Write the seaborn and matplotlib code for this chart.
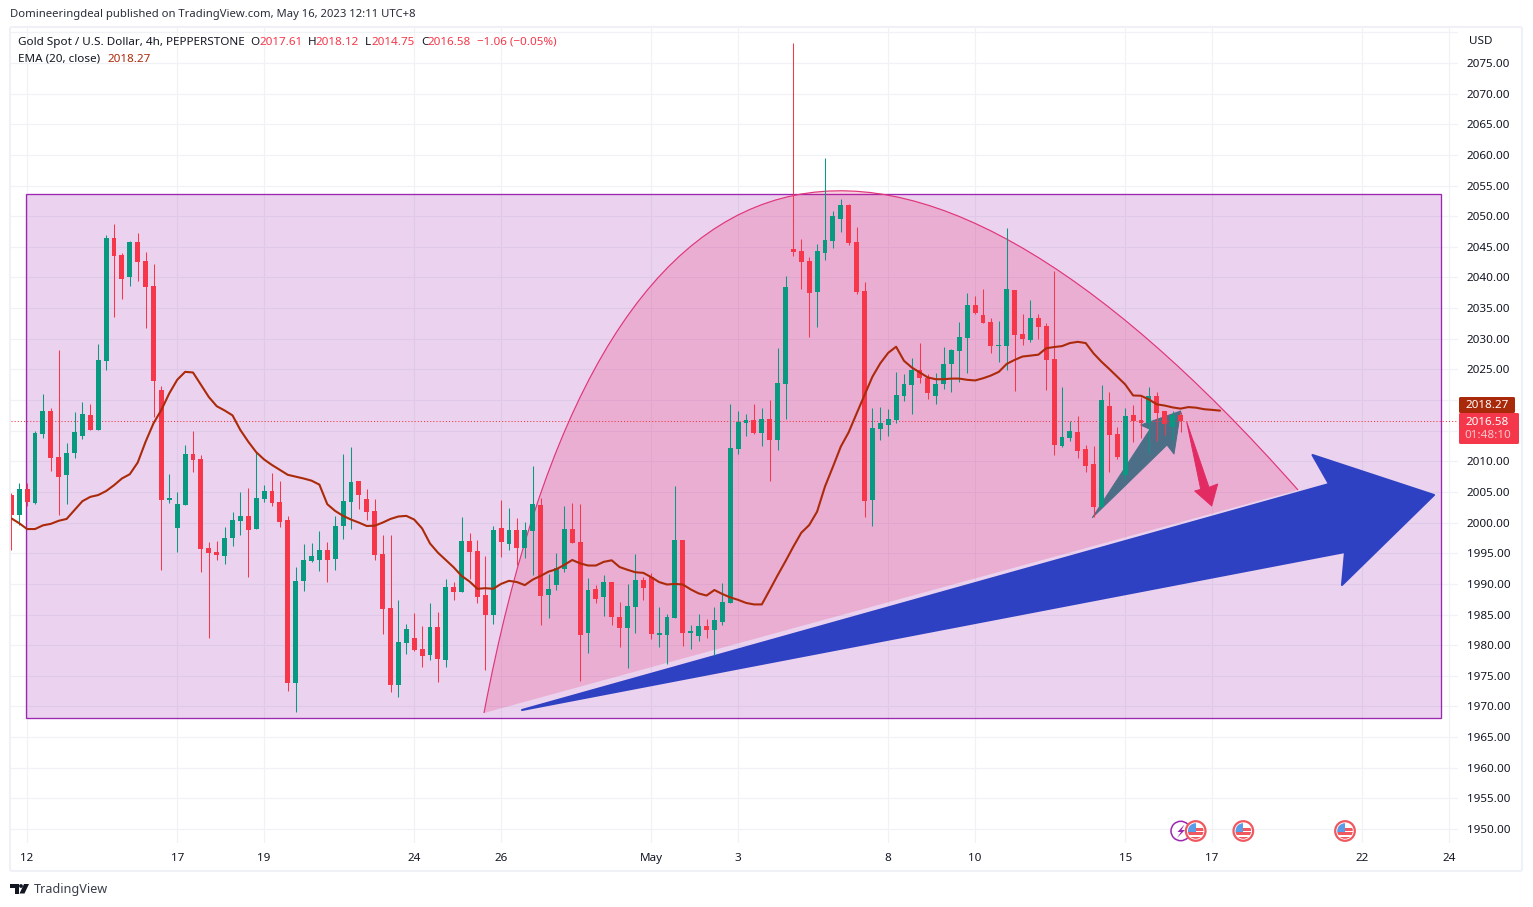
import numpy as np
import pandas as pd
import matplotlib
matplotlib.use("Agg")
import matplotlib.pyplot as plt
import seaborn as sns
from matplotlib.patches import Rectangle, Polygon, PathPatch, Circle, FancyBboxPatch
from matplotlib.path import Path
from matplotlib.transforms import Affine2D

# ---------- data (4h candles, USD) ----------
direction = list("RGRGGRRGGGRGGRRGRRRRGGGRRRRGGGRGG"
                 "RRRGGGGRGGGRRRRRGGRRGRGRGRRRGRGRG"
                 "GRGGGRRGRGRRGGRRGGGRGGRGGGGGRGRGG"
                 "RRRGGGGRRRGGGGGGRRG"
                 "GGGGRRRGGRRGRRRGGRRRGRRGRRGRRGR")
high = [2004.9,2006.5,2006.5,2014.9,2021,2018.7,2028.2,2013,2018,2019.7,2019.3,2029.1,2046.9,2048.7,2044,2046,2047.3,2044.2,2042.2,2022.3,2007.9,2005,2012.7,2014.9,2011,1996.8,1997,1999.3,2001.7,2005,2005.6,2011.5,2006.1,
        2008.1,2006.8,2001,1992.8,1996.5,1996.7,1998.6,1996.8,2001.1,2011.2,2012.3,2006.8,2005.5,2003.8,1998,1998,1987.4,1983.4,1985.2,1983.1,1986.9,1985.4,1990.8,1990.3,2000.9,1998.3,1997.2,1994.5,1999.4,2003.7,2002.4,2000.7,2000.1,
        2009.2,2004,1991.6,1995,2002.7,2003.2,2003,1991,1989.8,1991.4,1990.3,1987,1990,1994.9,1991.1,1991.8,1986.2,1985.1,2006,1997.2,1983.3,1985.1,1984.3,1986.2,1990.1,2019.35,2018.2,2017.7,2019.35,2018.7,2020,2028.5,2040.2,
        2078.3,2046.3,2043.3,2045.5,2059.5,2050.85,2052.8,2052,2048.2,2039.3,2018.7,2018.9,2018.5,2024.6,2024.25,2026.9,2029.3,2024.25,2024.4,
        2028.65,2028.3,2032.7,2037.5,2037,2038.1,2033.4,2032.9,2048.1,2038,2034,2036.3,2034,2032.6,2041,2022.1,2016.6,2017.4,2012.7,2012.5,2022.5,2021.3,2015.6,2018.7,2019.2,2020.5,2022.1,2021.3,2018.2,2018.2,2018.12]
body_top = [2004.5,2005.5,2005.5,2014.6,2018.2,2018.2,2010.7,2011.4,2014.8,2017.7,2017.6,2026.5,2046.4,2046.4,2043.7,2045.8,2045.8,2042.7,2038.6,2021.6,2004,2003,2011.2,2011.2,2010.4,1995.8,1995.2,1997.5,2000.4,2001,2001,2004,2005.1,
            2005.2,2003.4,2000.4,1990.5,1993.9,1994.5,1995.5,1995.5,1999.4,2003.5,2006.6,2006.8,2003.8,2001.9,1994.9,1986,1980.5,1982.6,1981.2,1979.4,1983,1983,1989.5,1989.5,1997,1997,1995.4,1988.2,1998.8,1999.1,1998.8,1998.8,1998.8,
            2003,2002.9,1989.2,1992.6,1999,1999,1996.8,1989,1989.2,1990.3,1990.3,1984.6,1986.4,1990.6,1990.6,1991.1,1982,1984.6,1997.2,1997.2,1982.3,1983.1,1983.1,1984.1,1987,2012.2,2016.4,2016.7,2016.7,2016.9,2016.9,2022.8,2038.4,
            2044.6,2044.3,2042.7,2044.3,2046.1,2050,2051.8,2051.8,2045.8,2037.8,2015.4,2016.25,2016.9,2020.8,2022.6,2024.9,2024.9,2023.6,2022.6,
            2025.9,2028.2,2030.3,2035.5,2035.5,2033.9,2032.7,2029,2038.1,2038,2030.8,2033.4,2033.4,2032.1,2026.7,2014,2015,2014.8,2012,2009.6,2020,2019,2014.5,2017.4,2017.6,2016.75,2020.7,2020.7,2018.2,2017.6,2017.61]
body_bot = [2001.2,2001.2,2003.4,2003.2,2014.5,2010.5,2007.4,2007.8,2011.4,2014.1,2015.1,2015.1,2026.4,2043.5,2039.7,2040.1,2042.5,2038.4,2023.1,2003.7,2003.7,1999.1,2002.9,2010.2,1995.7,1995,1994.7,1994.5,1997.5,2000.3,1998.8,1998.9,2003.8,
            2003.2,2000.1,1973.8,1973.8,1990.5,1993.7,1993.9,1993.9,1994,1999.4,2003.4,2004.5,2001.7,1994.7,1985.9,1973.5,1973.5,1980.4,1979.2,1978.2,1978.4,1977.7,1977.6,1988.7,1988.7,1995.2,1987.8,1984.9,1984.9,1996.8,1996.5,1995.9,1995.9,
            1998.6,1988,1988.2,1989.8,1992.4,1996.7,1981.7,1982,1987.5,1987.8,1984.6,1982.8,1982.8,1986.2,1989.3,1981.8,1981.7,1981.7,1984.4,1982,1982,1981.5,1982.5,1982.5,1983.8,1986.9,2012,2016.2,2014.6,2014.6,2013.5,2013.5,2022.6,
            2044.2,2042.5,2037.5,2037.6,2044,2046,2049.5,2045.6,2037.6,2003.5,2003.7,2015.3,2015.9,2016.7,2020.65,2022.45,2023.6,2021.15,2020.65,
            2022.6,2025.9,2028,2030.1,2034.2,2032.6,2028.8,2028.8,2028.8,2030.6,2030,2029.8,2031.9,2026.5,2012.7,2012.5,2013.8,2011.7,2009.2,2002.5,2002.5,2014.3,2010.7,2007.8,2016.6,2016.25,2016.25,2017.9,2016.1,2015.6,2016.58]
low = [1995.5,1999.6,2002.7,2003,2013.8,2008.4,2001.2,2003,2010.5,2013.6,2015.1,2015.1,2024.9,2033.5,2036.5,2038.6,2039.4,2031.7,2017.2,1992.3,2003.2,1995.2,2002.9,2008.3,1991.9,1981.2,1993.9,1993.2,1996.2,1998,1991.1,1998.9,2003.3,
       2002.7,1999.3,1972.5,1969.1,1988.8,1993.6,1992.1,1990.3,1992.3,1997.3,1999,2002.2,2000.4,1993.9,1981.8,1972.4,1971.5,1978.6,1979,1976.4,1977.6,1974,1976.4,1987.4,1988.7,1990.8,1986.9,1975.9,1983.5,1994.4,1995.5,1993.1,1994.2,
       1991.4,1983.3,1984.4,1989,1991.9,1996.7,1974.1,1978.7,1986.9,1984.8,1983.3,1979.7,1976.3,1982,1987.4,1981,1979.7,1976.9,1984.4,1979.9,1979.4,1980.7,1981.2,1978.4,1983.3,1986.9,2011.2,2014.1,2014.5,2012.5,2006.8,2011.85,2016.9,
       2043.5,2038.1,2030.3,2031.9,2042.85,2044.8,2047.4,2045.3,2037.3,2000.9,1999.4,2013.5,2014.1,2016.25,2019.8,2017.7,2022.8,2020.2,2019.35,
       2021.8,2021.3,2023,2024.4,2034,2032.6,2027.7,2026.2,2024.9,2021.5,2029,2029.5,2030,2021.6,2011,2012.3,2013.3,2010.5,2008.3,2000.9,2002.5,2008.3,2010.4,2007.1,2013.2,2013.8,2011.4,2013.3,2014.3,2013.5,2014.75]
ema20 = [2000.7,1999.9,1998.95,1998.95,1999.55,1999.8,2000.3,2000.6,2002.05,2003.5,2004.2,2004.5,2005.15,2006.1,2007.2,2007.9,2009.8,2013.2,2016.2,2018.4,2021.1,2023.3,2024.6,2024.5,2022.5,2020.5,2019,2018.3,2017.5,2015.1,2013.2,2011.5,2010.3,
         2009.4,2008.6,2007.8,2007.5,2007.2,2006.85,2006.2,2003,2001.9,2001.1,2000.5,2000,1999.45,1999.5,2000,2000.6,2001,2001.1,2000.5,1999.05,1996.6,1995.1,1993.9,1992.7,1991.3,1990.4,1989.2,1989.3,1989.2,1990,1990.5,1990.3,1989.8,
         1990.7,1991.3,1992,1992.4,1993.1,1993.9,1993.35,1993,1993,1993.6,1993.85,1992.75,1992.3,1991.9,1991.8,1991.1,1990.3,1989.9,1990,1989.9,1989.1,1988.45,1988.1,1989,1988.35,1987.8,1987.4,1986.9,1986.65,1986.65,1989,1991.4,1993.7,
         1996.1,1998.35,1999.6,2001.8,2005.9,2009.1,2012.4,2014.75,2017.8,2020.8,2023.8,2026,2027.7,2028.7,2026.4,2025.3,2024.5,2023.7,2023.4,
         2023.4,2023.5,2023.5,2023.3,2023.2,2023.55,2024,2024.6,2025.9,2026.55,2027.1,2027.25,2027.4,2028.45,2028.65,2028.8,2029.3,2029.5,2029.3,2027.6,2026.25,2025.05,2023.8,2022.55,2020.75,2020.7,2020.1,2019.3,2019.1,2018.8,2018.6,
         2018.85,2018.75,2018.5,2018.4,2018.27]
date_labels = ["12","17","19","24","26","May","3","8","10","15","17","22","24"]
date_bars = [2,21,32,51,62,81,92,111,122,141,152,171,182]
price_ticks = list(range(1950,2081,5))
hidden_price_labels = [2015,2020,2080]   # covered by the price tags and the USD label
last_price = 2016.58
zone_bars = (1.92,180.97)
zone_prices = (1968.1,2053.7)

GREEN, RED = "#089981", "#F63649"
INK = "#131722"
FONT = "Noto Sans"

sns.set_theme(style="white")
plt.rcParams["font.family"] = [FONT, "DejaVu Sans"]
W, H = 1533, 907
fig = plt.figure(figsize=(W/100, H/100), dpi=100, facecolor="white")
ax = fig.add_axes([11/W, 1-843/H, 1447/W, 815/H])
px = Affine2D().scale(1,-1).translate(0,H)   # reference-pixel coordinates for drawn objects

df = pd.DataFrame({"bar":np.arange(len(high)),"dir":direction,"high":high,"low":low,"top":body_top,"bot":body_bot})
df["height"] = df.top-df.bot

# grid
ax.set_axisbelow(True)

# zone, arc and arrows (user drawings under the candles)
ax.add_patch(Rectangle((zone_bars[0],zone_prices[0]),zone_bars[1]-zone_bars[0],zone_prices[1]-zone_prices[0],
                       fc=(156/255,39/255,176/255,0.2),ec="#9C27B0",lw=0.95,zorder=1))
A,C1,C2,B = (484,713),(600,100),(890,28),(1298,490)
arc_fill = Path([A,C1,C2,B,A],[Path.MOVETO,Path.CURVE4,Path.CURVE4,Path.CURVE4,Path.CLOSEPOLY])
ax.add_patch(PathPatch(arc_fill,transform=px,fc=(233/255,30/255,99/255,0.2),ec="none",zorder=1.1))
ax.add_patch(PathPatch(Path([A,C1,C2,B],[Path.MOVETO,Path.CURVE4,Path.CURVE4,Path.CURVE4]),transform=px,fc="none",ec="#E0357A",lw=0.85,zorder=1.15))
ax.add_patch(Polygon([(522,710),(1329,484),(1312.5,455),(1434,495),(1342,585),(1345,552)],transform=px,
                     fc="#2F41C3",ec="#2F41C3",lw=1.5,joinstyle="round",zorder=1.2))
ax.add_patch(Polygon([(1092.3,517.7),(1150,429.3),(1140.7,425),(1180.7,411),(1174,454),(1167,445)],transform=px,
                     fc="#4C6F87",ec="#4C6F87",lw=0.7,joinstyle="round",zorder=1.3))
ax.add_patch(Polygon([(1186.7,422),(1200.7,489.3),(1194.7,491),(1211.7,506),(1217.7,484),(1209,487.3)],transform=px,
                     fc="#E32B63",ec="#E32B63",lw=0.7,joinstyle="round",zorder=1.3))

ax.axhline(last_price,color="#F23645",lw=0.75,ls=(0,(1,2)),zorder=2.5)

# candles
for code,col in (("G",GREEN),("R",RED)):
    sub = df[df.dir==code]
    wick = ax.vlines(sub.bar,sub.low,sub.high,color=col,lw=0.75,zorder=3)
    wick.set_snap(True)
    sns.barplot(x=sub.bar.values,y=sub.height.values,bottom=sub.bot.values,native_scale=True,width=0.63,
                color=col,saturation=1,errorbar=None,linewidth=0,zorder=4,ax=ax)

sns.lineplot(x=np.arange(len(ema20)),y=ema20,color="#AB2A0A",lw=1.5,estimator=None,errorbar=None,zorder=5,ax=ax)

# axes
ax.set_xlim((11-11.3)/7.9,(1458-11.3)/7.9)
ax.set_ylim(1947.72,2080.71)
ax.yaxis.tick_right()
ax.set_yticks(price_ticks,["" if p in hidden_price_labels else f"{p:.2f}" for p in price_ticks])
ax.set_xticks(date_bars,date_labels)
ax.set_xlabel("");ax.set_ylabel("")
ax.grid(True,color="#F1F2F6",lw=0.85)
ax.tick_params(axis="both",length=0,labelsize=8.4,labelcolor=INK)
ax.tick_params(axis="y",pad=6.4)
ax.tick_params(axis="x",pad=7.3)
for s in ax.spines.values():
    s.set_visible(False)

def T(x,y,s,color=INK,size=8.4,ha="left",**kw):
    fig.text(x/W,1-y/H,s,color=color,fontsize=size,ha=ha,va="center",**kw)

# frame
fig.add_artist(FancyBboxPatch((10,27),1512,844,boxstyle="round,pad=0,rounding_size=2",transform=px,fc="none",ec="#F0F1F6",lw=1.5))

T(10,14.5,"Domineeringdeal published on TradingView.com, May 16, 2023 12:11 UTC+8",color="#2A2E39",size=8.13)
T(18,42.5,"Gold Spot / U.S. Dollar, 4h, PEPPERSTONE")
for x,s,c in [(250,"O",INK),(259,"2017.61",RED),(308,"H",INK),(316,"2018.12",RED),(365,"L",INK),(372,"2014.75",RED),
              (421,"C",INK),(428,"2016.58",RED),(477,"\u22121.06 (\u22120.05%)",RED)]:
    T(x,42.5,s,color=c)
T(18,59,"EMA (20, close)")
T(108,59,"2018.27",color="#AB2A0A")
T(1469,41,"USD")

# price labels
fig.add_artist(FancyBboxPatch((1459,397),56,16,boxstyle="round,pad=0,rounding_size=1.5",transform=px,fc="#A82A0A",ec="none"))
fig.add_artist(FancyBboxPatch((1459,413),60,31,boxstyle="round,pad=0,rounding_size=1.5",transform=px,fc="#F5374B",ec="none"))
T(1487.5,405,"2018.27",color="white",ha="center",fontweight="medium")
T(1487.5,422,"2016.58",color="white",ha="center",fontweight="medium")
T(1487.5,436,"01:48:10",color="#FBC4CA",ha="center")

# event icons
def flag(cx,cy=831):
    ax.add_patch(Circle((cx,cy),9.8,transform=px,fc="white",ec="#F0585F",lw=1.6,zorder=7,clip_on=False))
    clip = Circle((cx,cy),7.8,transform=px)
    for (x0,y0,w,h,c) in [(-8,-8,16,16,"#FFFFFF"),(0,-3,8,3,"#F0585F"),(-8,1,16,3,"#F0585F"),(-8,6,16,3,"#F0585F"),(-8,-8,8,9,"#5A9CE8")]:
        r = Rectangle((cx+x0,cy+y0),w,h,transform=px,fc=c,ec="none",zorder=7.1)
        ax.add_patch(r)
        r.set_clip_path(clip)
ax.add_patch(Circle((1180.7,831),9.7,transform=px,fc="white",ec="#9C27B0",lw=1.1,zorder=6.5))
ax.add_patch(Polygon([(1184.5,824.5),(1177.5,832),(1181,832),(1177,838),(1185,830),(1181.5,830)],transform=px,fc="#9C27B0",ec="none",zorder=6.6))
for cx in (1195.7,1243.3,1345):
    flag(cx)

# TradingView logo
fig.add_artist(Polygon([(10,884),(18.5,884),(18.5,893.5),(14.5,893.5),(14.5,887.5),(10,887.5)],transform=px,fc=INK,ec="none"))
fig.add_artist(Circle((21,886),1.9,transform=px,fc=INK,ec="none"))
fig.add_artist(Polygon([(24,884),(29,884),(24.5,893.5),(19.5,893.5)],transform=px,fc=INK,ec="none"))
T(34,889,"TradingView",color="#3A3E49",size=9.1)

fig.savefig("out.png",dpi=100,facecolor="white")
